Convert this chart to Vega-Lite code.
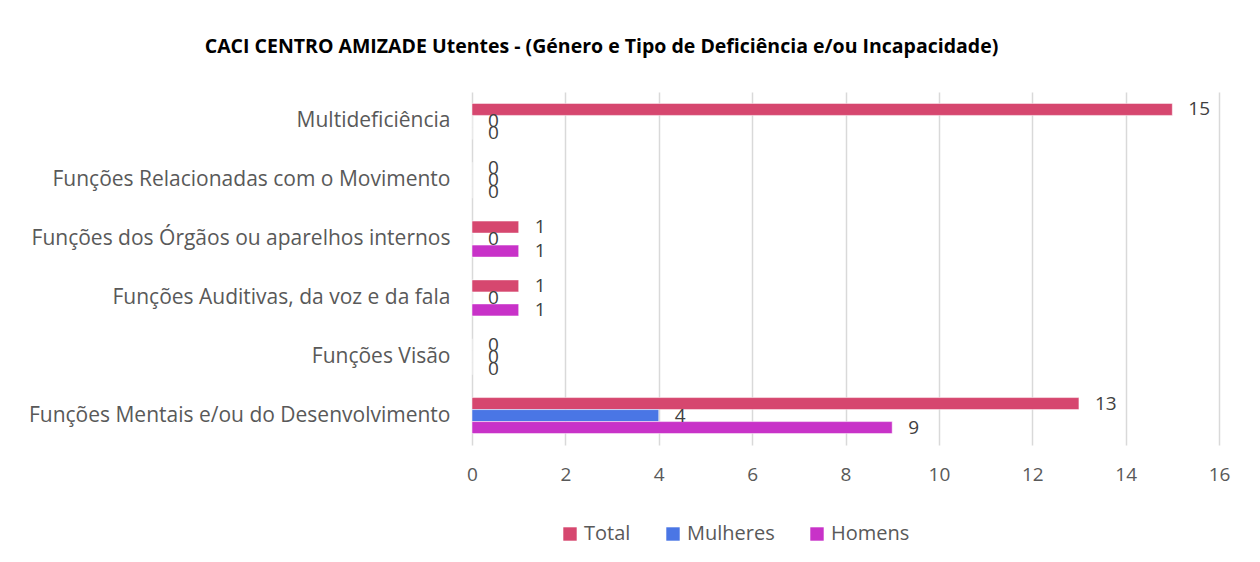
{
  "$schema": "https://vega.github.io/schema/vega-lite/v6.json",
  "autosize": "none",
  "width": 747,
  "height": 353,
  "padding": {"left": 472, "top": 92, "right": 41, "bottom": 117},
  "background": "white",
  "title": {
    "text": "CACI CENTRO AMIZADE Utentes - (Género e Tipo de Deficiência e/ou Incapacidade)",
    "font": "Open Sans",
    "fontSize": 19.5,
    "fontWeight": "bold",
    "color": "#000000",
    "anchor": "middle",
    "dx": -244,
    "offset": 35
  },
  "data": {
    "values": [
      {"categoria": "Multideficiência", "serie": "Total", "valor": 15},
      {"categoria": "Multideficiência", "serie": "Mulheres", "valor": 0},
      {"categoria": "Multideficiência", "serie": "Homens", "valor": 0},
      {"categoria": "Funções Relacionadas com o Movimento", "serie": "Total", "valor": 0},
      {"categoria": "Funções Relacionadas com o Movimento", "serie": "Mulheres", "valor": 0},
      {"categoria": "Funções Relacionadas com o Movimento", "serie": "Homens", "valor": 0},
      {"categoria": "Funções dos Órgãos ou aparelhos internos", "serie": "Total", "valor": 1},
      {"categoria": "Funções dos Órgãos ou aparelhos internos", "serie": "Mulheres", "valor": 0},
      {"categoria": "Funções dos Órgãos ou aparelhos internos", "serie": "Homens", "valor": 1},
      {"categoria": "Funções Auditivas, da voz e da fala", "serie": "Total", "valor": 1},
      {"categoria": "Funções Auditivas, da voz e da fala", "serie": "Mulheres", "valor": 0},
      {"categoria": "Funções Auditivas, da voz e da fala", "serie": "Homens", "valor": 1},
      {"categoria": "Funções Visão", "serie": "Total", "valor": 0},
      {"categoria": "Funções Visão", "serie": "Mulheres", "valor": 0},
      {"categoria": "Funções Visão", "serie": "Homens", "valor": 0},
      {"categoria": "Funções Mentais e/ou do Desenvolvimento", "serie": "Total", "valor": 13},
      {"categoria": "Funções Mentais e/ou do Desenvolvimento", "serie": "Mulheres", "valor": 4},
      {"categoria": "Funções Mentais e/ou do Desenvolvimento", "serie": "Homens", "valor": 9}
    ]
  },
  "encoding": {
    "y": {
      "field": "categoria",
      "type": "nominal",
      "sort": null,
      "scale": {"paddingInner": 0, "paddingOuter": 0},
      "axis": {
        "title": null,
        "domain": false,
        "ticks": false,
        "labelFont": "Open Sans",
        "labelFontSize": 21,
        "labelColor": "#595959",
        "labelPadding": 22,
        "labelLimit": 500
      }
    },
    "yOffset": {
      "field": "serie",
      "type": "nominal",
      "sort": ["Total", "Mulheres", "Homens"],
      "scale": {"paddingInner": 0, "paddingOuter": 0.95}
    },
    "x": {
      "field": "valor",
      "type": "quantitative",
      "scale": {"domain": [0, 16], "nice": false},
      "axis": {
        "title": null,
        "domain": false,
        "ticks": false,
        "values": [0, 2, 4, 6, 8, 10, 12, 14, 16],
        "labelOverlap": false,
        "labelFlush": false,
        "grid": true,
        "gridColor": "#d9d9d9",
        "gridWidth": 1.5,
        "labelFont": "Open Sans",
        "labelFontSize": 19,
        "labelColor": "#595959",
        "labelPadding": 20
      }
    }
  },
  "layer": [
    {
      "mark": {"type": "bar", "stroke": "white", "strokeWidth": 0.5},
      "encoding": {
        "color": {
          "field": "serie",
          "type": "nominal",
          "sort": ["Total", "Mulheres", "Homens"],
          "scale": {"domain": ["Total", "Mulheres", "Homens"], "range": ["#D6476F", "#4A76E5", "#C832C8"]},
          "legend": {
            "title": null,
            "orient": "none",
            "direction": "horizontal",
            "legendX": 88,
            "legendY": 432,
            "symbolType": "square",
            "symbolSize": 180,
            "symbolStrokeWidth": 0,
            "labelFont": "Open Sans",
            "labelFontSize": 20,
            "labelColor": "#595959",
            "columnPadding": 32,
            "symbolOffset": 0
          }
        }
      }
    },
    {
      "mark": {"type": "text", "align": "left", "baseline": "middle", "dx": 16, "font": "Open Sans", "fontSize": 19, "color": "#404040"},
      "encoding": {"text": {"field": "valor", "type": "quantitative"}}
    }
  ],
  "config": {"view": {"stroke": null}}
}
